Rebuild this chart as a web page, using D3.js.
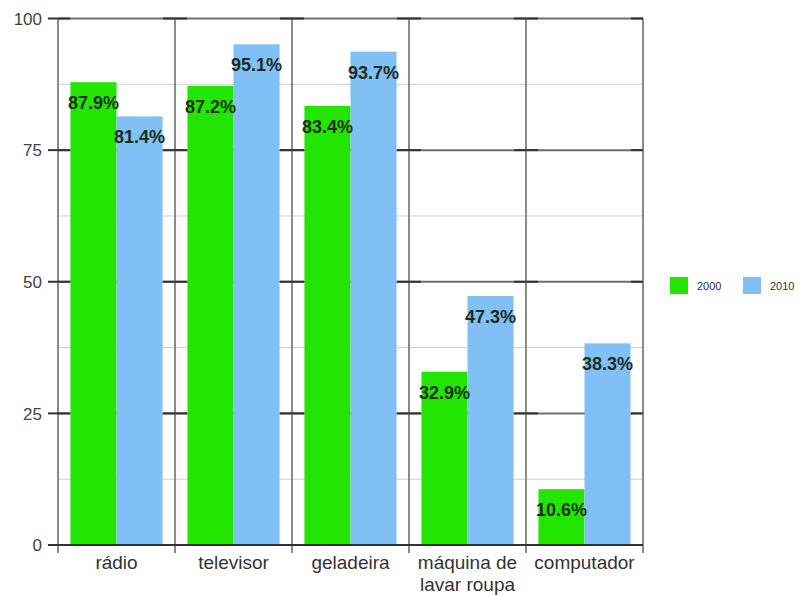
<!DOCTYPE html>
<html>
<head>
<meta charset="utf-8">
<script src="https://cdn.jsdelivr.net/npm/d3@7"></script>
<style>
  html, body { margin: 0; padding: 0; background: #fff; }
  svg { display: block; font-family: "Liberation Sans", Arial, sans-serif; }
</style>
</head>
<body>
<svg id="chart" width="803" height="595"></svg>
<script>
const categories = ["rádio", "televisor", "geladeira", "máquina de\nlavar roupa", "computador"];
const seriesNames = ["2000", "2010"];
const values2000 = [87.9, 87.2, 83.4, 32.9, 10.6];
const values2010 = [81.4, 95.1, 93.7, 47.3, 38.3];
const yTicks = [0, 25, 50, 75, 100];
const yMinor = [12.5, 37.5, 62.5, 87.5];
const colors = ["#22e600", "#80c0f5"];

const svg = d3.select("#chart");
const plotLeft = 58, plotRight = 643, plotTop = 18.5, plotBottom = 545;

const x0 = d3.scaleBand().domain(d3.range(categories.length)).range([plotLeft, plotRight]).paddingInner(0).paddingOuter(0);
const x1 = d3.scaleBand().domain(seriesNames).range([0, x0.bandwidth()]).paddingInner(0).paddingOuter(0.27);
const y = d3.scaleLinear().domain([0, 100]).range([plotBottom, plotTop]);
const color = d3.scaleOrdinal().domain(seriesNames).range(colors);

const data = categories.map((c, i) => ({ cat: c, i, vals: [
  { s: seriesNames[0], v: values2000[i] },
  { s: seriesNames[1], v: values2010[i] }
]}));

// minor gridlines
svg.append("g").selectAll("line").data(yMinor).join("line")
  .attr("x1", plotLeft).attr("x2", plotRight)
  .attr("y1", d => y(d)).attr("y2", d => y(d))
  .attr("stroke", "#cfcfcf").attr("stroke-width", 1);

// major gridlines
svg.append("g").selectAll("line").data(yTicks).join("line")
  .attr("x1", plotLeft).attr("x2", plotRight)
  .attr("y1", d => y(d)).attr("y2", d => y(d))
  .attr("stroke", "#6e6e6e").attr("stroke-width", 2);

// vertical category boundaries
const bounds = d3.range(categories.length + 1).map(i => i < categories.length ? x0(i) : plotRight);
svg.append("g").selectAll("line").data(bounds).join("line")
  .attr("x1", d => d).attr("x2", d => d)
  .attr("y1", plotTop).attr("y2", plotBottom + 8)
  .attr("stroke", "#8a8a8a").attr("stroke-width", 2);

// bars
const groups = svg.append("g").selectAll("g").data(data).join("g")
  .attr("transform", d => `translate(${x0(d.i)},0)`);
groups.selectAll("rect").data(d => d.vals).join("rect")
  .attr("x", d => x1(d.s)).attr("width", x1.bandwidth())
  .attr("y", d => y(d.v)).attr("height", d => y(0) - y(d.v))
  .attr("fill", d => color(d.s));

// dark tick marks at major levels on every boundary
const tickMarks = [];
bounds.forEach(b => yTicks.forEach(t => tickMarks.push({ b, t })));
svg.append("g").selectAll("line").data(tickMarks).join("line")
  .attr("x1", d => d.b === plotLeft ? d.b - 10 : d.b - 12)
  .attr("x2", d => d.b === plotRight ? d.b : d.b + 12)
  .attr("y1", d => y(d.t)).attr("y2", d => y(d.t))
  .attr("stroke", "#333").attr("stroke-width", 2);

// bottom axis line
svg.append("line").attr("x1", plotLeft).attr("x2", plotRight)
  .attr("y1", y(0)).attr("y2", y(0))
  .attr("stroke", "#333").attr("stroke-width", 2);

// value labels
groups.selectAll("text").data(d => d.vals).join("text")
  .attr("x", d => x1(d.s) + x1.bandwidth() / 2)
  .attr("y", d => y(d.v) + 27)
  .attr("text-anchor", "middle")
  .attr("font-size", 18).attr("font-weight", "bold")
  .attr("fill", "#1b2e1e")
  .text(d => d.v.toFixed(1) + "%");

// y tick labels
svg.append("g").selectAll("text").data(yTicks).join("text")
  .attr("x", 42).attr("y", d => y(d) + 6.3)
  .attr("text-anchor", "end")
  .attr("font-size", 17).attr("fill", "#444")
  .text(d => d);

// category labels
svg.append("g").selectAll("text").data(data).join("text")
  .attr("x", d => x0(d.i) + x0.bandwidth() / 2)
  .attr("y", 569)
  .attr("text-anchor", "middle")
  .attr("font-size", 19).attr("fill", "#333")
  .each(function(d) {
    const lines = d.cat.split("\n");
    d3.select(this).selectAll("tspan").data(lines).join("tspan")
      .attr("x", x0(d.i) + x0.bandwidth() / 2)
      .attr("dy", (l, k) => k === 0 ? 0 : 21.5)
      .text(l => l);
  });

// legend
const legend = svg.append("g").attr("transform", "translate(670,277)");
const li = legend.selectAll("g").data(seriesNames).join("g")
  .attr("transform", (d, i) => `translate(${i * 73},0)`);
li.append("rect").attr("width", 18).attr("height", 17).attr("fill", d => color(d));
li.append("text").attr("x", 27).attr("y", 13).attr("font-size", 11).attr("fill", "#333").text(d => d);
</script>
</body>
</html>
